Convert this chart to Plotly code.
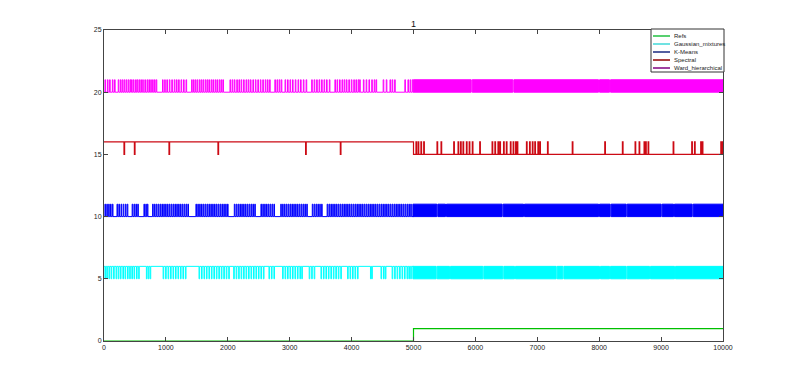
import plotly.graph_objects as go

X_END = 10000
X_SPLIT = 5000
TITLE = "1"
X_TICKS = [0, 1000, 2000, 3000, 4000, 5000, 6000, 7000, 8000, 9000, 10000]
Y_TICKS = [0, 5, 10, 15, 20, 25]

NAMES = ["Refs", "Gaussian_mixtures", "K-Means", "Spectral", "Ward_hierarchical"]
PLOT_COLORS = ["#00c000", "#00ffff", "#0000ff", "#cc0a14", "#ff00ff"]
LEGEND_COLORS = ["#20c040", "#40d8d8", "#1a2a80", "#900000", "#800080"]

# Refs: level in first half, level in second half
REFS_LEVELS = [0, 1]

# Gaussian mixtures (5/6): first half sits at 6 with dips to 5; second half dense
GMM_LEVELS = [5, 6]
GMM_DIPS_FIRST = [20, 50, 85, 120, 160, 200, 235, 270, 310, 345, 385, 420, 455, 490, 530, 565,
                  690, 720, 750, 960, 1000, 1040, 1080, 1120, 1160, 1200, 1240, 1280, 1320,
                  1540, 1580, 1620, 1660, 1700, 1740, 1780, 1820, 1860, 1900, 1940, 1980, 2020,
                  2100, 2140, 2180, 2220, 2260, 2300, 2340, 2380, 2420, 2460, 2500, 2540, 2580,
                  2670, 2710, 2750, 2890, 2930, 2970, 3010, 3050, 3090, 3130, 3170, 3200,
                  3320, 3360, 3400, 3510, 3550, 3590, 3630, 3670, 3710, 3750, 3790, 3830,
                  3940, 3980, 4020, 4060, 4100, 4310, 4330, 4480, 4520, 4550, 4660, 4700,
                  4740, 4780, 4820, 4860, 4900, 4930, 4960]
GMM_BLOCKS_SECOND = [(4990, 5366), (5382, 5582), (5598, 6120), (6136, 6443), (6459, 6632),
                     (6648, 7305), (7321, 7413), (7429, 8005), (8021, 8167), (8183, 8436),
                     (8452, 8813), (8829, 9217), (9233, 10000)]

# K-Means (10/11): first half sits at 10 with spikes to 11; second half dense
KM_LEVELS = [10, 11]
KM_SPIKES_FIRST = [20, 50, 80, 110, 140, 215, 245, 280, 315, 350, 380, 460, 490, 520, 550,
                   650, 680, 705, 790, 820, 850, 880, 910, 940, 970, 1000, 1030, 1060, 1090,
                   1120, 1150, 1180, 1210, 1240, 1270, 1300, 1330, 1360, 1490, 1520, 1550,
                   1580, 1610, 1640, 1670, 1700, 1730, 1760, 1790, 1820, 1850, 1880, 1910,
                   1940, 1970, 2000, 2110, 2140, 2170, 2200, 2230, 2260, 2290, 2320, 2350,
                   2380, 2410, 2440, 2540, 2570, 2600, 2630, 2660, 2690, 2720, 2750, 2860,
                   2890, 2920, 2950, 2980, 3010, 3040, 3070, 3100, 3130, 3160, 3190, 3220,
                   3250, 3280, 3370, 3400, 3430, 3460, 3490, 3520, 3610, 3640, 3670, 3700,
                   3730, 3760, 3790, 3820, 3850, 3880, 3910, 3940, 3970, 4000, 4030, 4060,
                   4090, 4120, 4150, 4180, 4210, 4240, 4270, 4300, 4330, 4360, 4390, 4420,
                   4450, 4480, 4510, 4540, 4570, 4600, 4630, 4660, 4690, 4720, 4750, 4780,
                   4810, 4840, 4870, 4900, 4930, 4960]
KM_BLOCKS_SECOND = [(4990, 5377), (5393, 5517), (5533, 6432), (6448, 6777), (6793, 7989),
                    (8005, 8177), (8193, 8436), (8452, 9001), (9017, 9200), (9216, 9502),
                    (9518, 10000)]

# Spectral (15/16): first half sits at 16 with dips to 15; second half sits at 15 with spikes to 16
SP_LEVELS = [15, 16]
SP_DIPS_FIRST = [328, 496, 1055, 1846, 3262, 3823]
SP_SPIKES_SECOND = [5045, 5080, 5125, 5170, 5385, 5450, 5655, 5725, 5765, 5805, 5860, 5905,
                    5955, 6075, 6275, 6320, 6370, 6400, 6460, 6505, 6570, 6615, 6655, 6680,
                    6830, 6880, 6925, 6965, 7015, 7045, 7170, 7570, 8095, 8380, 8585, 8650,
                    8730, 8755, 8795, 9200, 9500, 9545, 9645, 9670, 9970, 9995]

# Ward hierarchical (20/21): first half sits at 20 with spikes to 21; second half dense
WARD_LEVELS = [20, 21]
WARD_SPIKES_FIRST = [20, 60, 95, 140, 175, 235, 270, 300, 330, 362, 395, 425, 450, 480, 515,
                     540, 570, 600, 630, 665, 700, 730, 760, 790, 820, 848, 950, 985, 1020,
                     1060, 1100, 1140, 1175, 1210, 1250, 1290, 1330, 1420, 1450, 1480, 1510,
                     1545, 1575, 1605, 1640, 1670, 1700, 1735, 1765, 1800, 1830, 1865, 1895,
                     1925, 2040, 2075, 2110, 2150, 2185, 2220, 2260, 2300, 2335, 2370, 2410,
                     2450, 2490, 2530, 2570, 2610, 2645, 2680, 2765, 2800, 2835, 2868, 2930,
                     2970, 3010, 3050, 3095, 3140, 3180, 3225, 3270, 3360, 3400, 3440, 3480,
                     3520, 3560, 3600, 3645, 3735, 3770, 3810, 3850, 3885, 3920, 3960, 4000,
                     4040, 4075, 4110, 4135, 4195, 4240, 4285, 4330, 4370, 4400, 4515, 4565,
                     4625, 4660, 4700, 4865, 4915, 4950, 4985]
WARD_BLOCKS_SECOND = [(4998, 5932), (5948, 6605), (6621, 7989), (8005, 8167), (8183, 10000)]

SPIKE_W = 10


def half_steps(x0, x1, base, other, centers):
    xs, ys = [x0], [base]
    for c in centers:
        a, b = c - SPIKE_W / 2, c + SPIKE_W / 2
        xs += [a, a, b, b]
        ys += [base, other, other, base]
    xs.append(x1)
    ys.append(base)
    return xs, ys


def block_shape(blocks, lo, hi):
    xs, ys = [], []
    for a, b in blocks:
        xs += [a, b, b, a, a, None]
        ys += [lo, lo, hi, hi, lo, None]
    return xs, ys


fig = go.Figure()

fig.add_trace(go.Scatter(x=[0, X_SPLIT, X_SPLIT, X_END],
                         y=[REFS_LEVELS[0], REFS_LEVELS[0], REFS_LEVELS[1], REFS_LEVELS[1]],
                         mode="lines", line=dict(color=PLOT_COLORS[0], width=1.2),
                         name=NAMES[0], showlegend=False, hoverinfo="skip"))

gx, gy = half_steps(0, X_SPLIT, GMM_LEVELS[1], GMM_LEVELS[0], GMM_DIPS_FIRST)
fig.add_trace(go.Scatter(x=gx, y=gy, mode="lines", line=dict(color=PLOT_COLORS[1], width=1),
                         name=NAMES[1], showlegend=False, hoverinfo="skip"))
bx, by = block_shape(GMM_BLOCKS_SECOND, GMM_LEVELS[0], GMM_LEVELS[1])
fig.add_trace(go.Scatter(x=bx, y=by, mode="lines", fill="toself", fillcolor=PLOT_COLORS[1],
                         line=dict(color=PLOT_COLORS[1], width=1), showlegend=False,
                         hoverinfo="skip"))

kx, ky = half_steps(0, X_SPLIT, KM_LEVELS[0], KM_LEVELS[1], KM_SPIKES_FIRST)
fig.add_trace(go.Scatter(x=kx, y=ky, mode="lines", line=dict(color=PLOT_COLORS[2], width=1),
                         name=NAMES[2], showlegend=False, hoverinfo="skip"))
bx, by = block_shape(KM_BLOCKS_SECOND, KM_LEVELS[0], KM_LEVELS[1])
fig.add_trace(go.Scatter(x=bx, y=by, mode="lines", fill="toself", fillcolor=PLOT_COLORS[2],
                         line=dict(color=PLOT_COLORS[2], width=1), showlegend=False,
                         hoverinfo="skip"))

sx1, sy1 = half_steps(0, X_SPLIT, SP_LEVELS[1], SP_LEVELS[0], SP_DIPS_FIRST)
sx2, sy2 = half_steps(X_SPLIT, X_END, SP_LEVELS[0], SP_LEVELS[1], SP_SPIKES_SECOND)
fig.add_trace(go.Scatter(x=sx1 + sx2, y=sy1 + sy2, mode="lines",
                         line=dict(color=PLOT_COLORS[3], width=1.2),
                         name=NAMES[3], showlegend=False, hoverinfo="skip"))

wx, wy = half_steps(0, X_SPLIT, WARD_LEVELS[0], WARD_LEVELS[1], WARD_SPIKES_FIRST)
fig.add_trace(go.Scatter(x=wx, y=wy, mode="lines", line=dict(color=PLOT_COLORS[4], width=1),
                         name=NAMES[4], showlegend=False, hoverinfo="skip"))
bx, by = block_shape(WARD_BLOCKS_SECOND, WARD_LEVELS[0], WARD_LEVELS[1])
fig.add_trace(go.Scatter(x=bx, y=by, mode="lines", fill="toself", fillcolor=PLOT_COLORS[4],
                         line=dict(color=PLOT_COLORS[4], width=1), showlegend=False,
                         hoverinfo="skip"))

# The page body has an 8px margin, so the figure is drawn 8px right/down.
OFF = 8
W, H = 800 - OFF, 383 - OFF
X0P, X1P, Y0P, Y1P = 104 - OFF, 723 - OFF, 30 - OFF, 341 - OFF  # plot box in figure px
PW, PH = X1P - X0P, Y1P - Y0P


def px_x(p):  # screen px -> paper x
    return (p - OFF - X0P) / PW


def px_y(p):  # screen px -> paper y
    return (Y1P - (p - OFF)) / PH


fig.update_layout(
    width=W, height=H,
    margin=dict(l=X0P, r=W - X1P, t=Y0P, b=H - Y1P, autoexpand=False),
    paper_bgcolor="white", plot_bgcolor="white",
    showlegend=False,
    font=dict(family="Liberation Sans, Arial, sans-serif", size=7, color="#222"),
    xaxis=dict(range=[0, X_END], tickvals=X_TICKS, automargin=False,
               ticktext=[str(v) for v in X_TICKS], ticks="inside", ticklen=4,
               tickcolor="#444", showline=True, linecolor="#444", linewidth=1,
               mirror="ticks", showgrid=False, zeroline=False, tickfont=dict(size=7)),
    yaxis=dict(range=[0, 25], tickvals=Y_TICKS, automargin=False,
               ticktext=[str(v) for v in Y_TICKS], ticks="inside", ticklen=4,
               tickcolor="#444", showline=True, linecolor="#444", linewidth=1,
               mirror="ticks", showgrid=False, zeroline=False, tickfont=dict(size=7)),
    annotations=[dict(text=TITLE, x=px_x(413.5), y=px_y(24), xref="paper",
                      yref="paper", showarrow=False, font=dict(size=9, color="#111"),
                      xanchor="center", yanchor="middle")],
)

# Manual compact legend (MATLAB-style)
LX0, LX1, LY0, LY1 = 651, 724, 29, 72
shapes = [dict(type="rect", xref="paper", yref="paper", x0=px_x(LX0), x1=px_x(LX1),
               y0=px_y(LY1), y1=px_y(LY0), line=dict(color="#333", width=1),
               fillcolor="white", layer="above")]
row_y = [36, 44, 52, 60, 68]
for name, col, ry in zip(NAMES, LEGEND_COLORS, row_y):
    shapes.append(dict(type="line", xref="paper", yref="paper", x0=px_x(653), x1=px_x(670),
                       y0=px_y(ry), y1=px_y(ry), line=dict(color=col, width=1.5),
                       layer="above"))
    fig.add_annotation(text=name, x=px_x(672), y=px_y(ry), xref="paper", yref="paper",
                       showarrow=False, xanchor="left", yanchor="middle",
                       font=dict(size=6, color="#222"))
fig.update_layout(shapes=shapes)

fig.write_html("out.html")
